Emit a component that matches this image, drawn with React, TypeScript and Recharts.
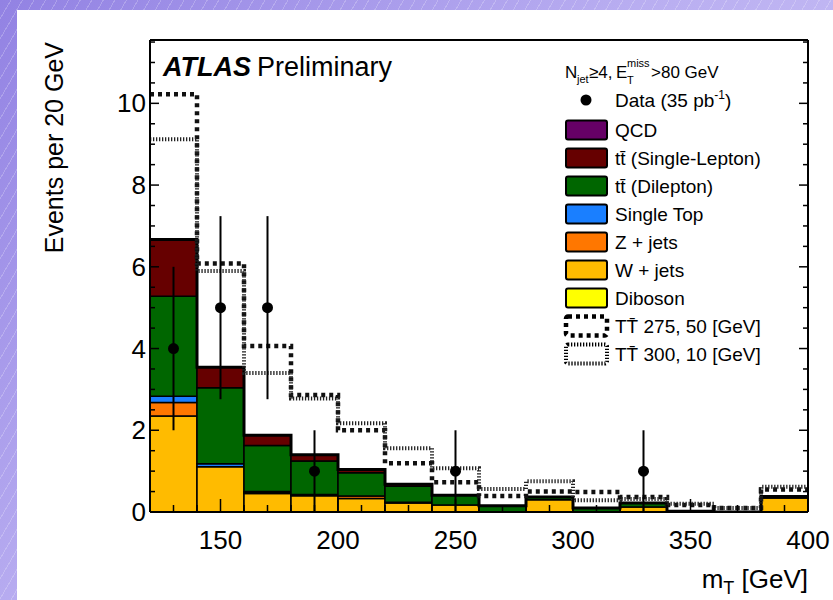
import { Bar, ComposedChart, ErrorBar, Label, Line, Scatter, XAxis, YAxis } from 'recharts';

const FONT = "'Liberation Sans', Arial, Helvetica, sans-serif";

// m_T bins, 20 GeV wide
const BIN_LOW_EDGES = [120, 140, 160, 180, 200, 220, 240, 260, 280, 300, 320, 340, 360, 380];
const LAST_EDGE = 400;

// expected background per bin, bottom of the stack first
const diboson = [0, 0, 0, 0, 0, 0, 0, 0, 0, 0, 0, 0, 0, 0];
const wJets = [2.35, 1.11, 0.45, 0.4, 0.33, 0.22, 0.17, 0, 0.3, 0, 0.12, 0, 0, 0.34];
const zJets = [0.33, 0, 0.03, 0.02, 0.06, 0.02, 0, 0, 0, 0, 0, 0, 0, 0];
const singleTop = [0.15, 0.07, 0.02, 0.01, 0, 0, 0, 0, 0, 0, 0, 0, 0, 0];
const ttDilepton = [2.45, 1.86, 1.13, 0.82, 0.57, 0.39, 0.24, 0.15, 0.07, 0.1, 0.1, 0.02, 0, 0.04];
const ttSingleLepton = [1.39, 0.5, 0.25, 0.15, 0.08, 0.05, 0, 0, 0, 0, 0, 0, 0, 0];
const qcd = [0, 0, 0, 0, 0, 0, 0, 0, 0, 0, 0, 0, 0, 0];

// signal hypotheses (not stacked)
const signal275 = [10.22, 6.08, 4.06, 2.86, 2.0, 1.19, 0.73, 0.39, 0.5, 0.49, 0.37, 0.17, 0.1, 0.55];
const signal300 = [9.12, 5.9, 3.4, 2.78, 2.17, 1.56, 1.07, 0.56, 0.75, 0.29, 0.32, 0.2, 0.1, 0.62];

// observed events (bins with zero entries are not drawn)
const dataMt = [130, 150, 170, 190, 250, 330];
const dataEvents = [4, 5, 5, 1, 1, 1];
const dataErrors = [2, 2.24, 2.24, 1, 1, 1];

const X_TICKS = Array.from({ length: 29 }, (_, i) => 120 + i * 10);
const Y_TICKS = Array.from({ length: 24 }, (_, i) => i * 0.5);

const STACK = [
  { key: 'diboson', name: 'Diboson', values: diboson, color: '#ffff00' },
  { key: 'wJets', name: 'W + jets', values: wJets, color: '#ffbb00' },
  { key: 'zJets', name: 'Z + jets', values: zJets, color: '#ff7700' },
  { key: 'singleTop', name: 'Single Top', values: singleTop, color: '#1a7fff' },
  { key: 'ttDilepton', name: 'tt\u0304 (Dilepton)', values: ttDilepton, color: '#006600' },
  { key: 'ttSingleLepton', name: 'tt\u0304 (Single-Lepton)', values: ttSingleLepton, color: '#660000' },
  { key: 'qcd', name: 'QCD', values: qcd, color: '#660066' },
];

const barRows = BIN_LOW_EDGES.map((lo, i) => {
  const row: Record<string, number | string> = { bin: String(lo) };
  STACK.forEach((s) => {
    row[s.key] = s.values[i];
  });
  return row;
});

const stepRows = [...BIN_LOW_EDGES, LAST_EDGE].map((x, i) => {
  const b = Math.min(i, BIN_LOW_EDGES.length - 1);
  return {
    x,
    total: STACK.reduce((sum, s) => sum + s.values[b], 0),
    tt275: signal275[b],
    tt300: signal300[b],
  };
});

const pointRows = dataMt.map((x, i) => ({ x, n: dataEvents[i], err: dataErrors[i] }));

const TICK_MARGIN = 4;

function LeftTick(props: any) {
  const { x, y, payload } = props;
  const axisX = x + TICK_MARGIN;
  const major = payload.value % 2 === 0;
  return (
    <g>
      <line x1={axisX} x2={axisX + (major ? 9 : 5)} y1={y} y2={y} stroke="#000" strokeWidth={1.5} />
      {major && (
        <text x={axisX - 4} y={y + 9} textAnchor="end" fontSize={26} fontFamily={FONT} fill="#000">
          {payload.value}
        </text>
      )}
    </g>
  );
}

function RightTick(props: any) {
  const { x, y, payload } = props;
  const axisX = x - TICK_MARGIN;
  const major = payload.value % 2 === 0;
  return <line x1={axisX} x2={axisX - (major ? 9 : 5)} y1={y} y2={y} stroke="#000" strokeWidth={1.5} />;
}

function BottomTick(props: any) {
  const { x, y, payload } = props;
  const axisY = y - TICK_MARGIN;
  const major = payload.value % 50 === 0;
  return (
    <g>
      <line x1={x} x2={x} y1={axisY} y2={axisY - (major ? 13 : 7)} stroke="#000" strokeWidth={1.5} />
      {major && (
        <text x={x} y={axisY + 37} textAnchor="middle" fontSize={26} fontFamily={FONT} fill="#000">
          {payload.value}
        </text>
      )}
    </g>
  );
}

function TopTick(props: any) {
  const { x, y, payload } = props;
  const axisY = y + TICK_MARGIN;
  const major = payload.value % 50 === 0;
  return <line x1={x} x2={x} y1={axisY} y2={axisY + (major ? 13 : 7)} stroke="#000" strokeWidth={1.5} />;
}

function DataDot(props: any) {
  return <circle cx={props.cx} cy={props.cy} r={5.5} fill="#000" />;
}

function Swatch({ y, fill, dash, width }: { y: number; fill?: string; dash?: string; width?: number }) {
  return (
    <rect
      x={566}
      y={y - 9.5}
      width={41}
      height={19}
      rx={2}
      fill={fill ?? '#fff'}
      stroke="#000"
      strokeWidth={width ?? 2}
      strokeDasharray={dash}
    />
  );
}

function LegendText({ y, children }: { y: number; children: any }) {
  return (
    <text x={615} y={y + 7} fontSize={19} fontFamily={FONT} fill="#000">
      {children}
    </text>
  );
}

function Overlay() {
  const legendStack = [...STACK].reverse();
  const rowY = (i: number) => 130 + i * 28;
  return (
    <svg width={833} height={600} style={{ position: 'absolute', left: 0, top: 0, pointerEvents: 'none' }}>
      <text x={163} y={76} fontSize={27} fontFamily={FONT} fontWeight="bold" fontStyle="italic" fill="#000">
        ATLAS
      </text>
      <text x={257} y={76} fontSize={27} fontFamily={FONT} fill="#000">
        Preliminary
      </text>

      {/* selection cuts */}
      <g fontFamily={FONT} fill="#000">
        <text x={565} y={78} fontSize={17}>N</text>
        <text x={577} y={83} fontSize={11}>jet</text>
        <text x={589} y={78} fontSize={17}>≥4,</text>
        <text x={616} y={78} fontSize={17}>E</text>
        <text x={627} y={67} fontSize={11}>miss</text>
        <text x={627} y={84} fontSize={11}>T</text>
        <text x={651} y={78} fontSize={17}>&gt;80 GeV</text>
      </g>

      <circle cx={586} cy={100} r={5.5} fill="#000" />
      <LegendText y={100}>
        Data (35 pb
        <tspan fontSize={12} dy={-8}>-1</tspan>
        <tspan dy={8}>)</tspan>
      </LegendText>

      {legendStack.map((s, i) => (
        <g key={s.key}>
          <Swatch y={rowY(i)} fill={s.color} />
          <LegendText y={rowY(i)}>{s.name}</LegendText>
        </g>
      ))}

      <Swatch y={rowY(7)} dash="4 4" width={4.5} />
      <LegendText y={rowY(7)}>TT{'\u0304'} 275, 50 [GeV]</LegendText>
      <Swatch y={rowY(8)} dash="1.3 1.7" width={4} />
      <LegendText y={rowY(8)}>TT{'\u0304'} 300, 10 [GeV]</LegendText>
    </svg>
  );
}

export default function App() {
  return (
    <div
      style={{
        position: 'absolute',
        left: 0,
        top: 0,
        width: 833,
        height: 600,
        overflow: 'hidden',
        background:
          'repeating-linear-gradient(120deg, rgba(255,255,255,0) 0px, rgba(255,255,255,0) 9px, rgba(255,255,255,0.22) 9px, rgba(255,255,255,0.22) 10px), linear-gradient(135deg, #9282e3 0%, #b9aef1 45%, #d3ccf7 100%)',
      }}
    >
      <div style={{ position: 'absolute', left: 17, top: 10, right: 0, bottom: 0, background: '#fff' }} />
      <div style={{ position: 'absolute', left: 0, top: 0 }}>
        <ComposedChart
          width={833}
          height={600}
          data={barRows}
          margin={{ top: 0, right: 0, bottom: 0, left: 0 }}
          barCategoryGap={0}
          barGap={0}
        >
          <XAxis xAxisId="bins" dataKey="bin" type="category" height={0} hide />
          <XAxis
            xAxisId="mt"
            dataKey="x"
            type="number"
            domain={[120, LAST_EDGE]}
            allowDataOverflow
            ticks={X_TICKS}
            interval={0}
            height={88}
            tickSize={0}
            tickMargin={TICK_MARGIN}
            tickLine={false}
            tick={BottomTick}
            axisLine={{ stroke: '#000', strokeWidth: 2 }}
          >
            <Label
              content={(p: any) => {
                const vb = p.viewBox;
                return (
                  <text x={vb.x + vb.width} y={vb.y + 76} textAnchor="end" fontSize={26} fontFamily={FONT} fill="#000">
                    m<tspan fontSize={18} dy={6}>T</tspan>
                    <tspan dy={-6}> [GeV]</tspan>
                  </text>
                );
              }}
            />
          </XAxis>
          <XAxis
            xAxisId="mtTop"
            orientation="top"
            type="number"
            domain={[120, LAST_EDGE]}
            allowDataOverflow
            ticks={X_TICKS}
            interval={0}
            height={40}
            tickSize={0}
            tickMargin={TICK_MARGIN}
            tickLine={false}
            tick={TopTick}
            axisLine={{ stroke: '#000', strokeWidth: 2 }}
          />
          <YAxis
            yAxisId="y"
            type="number"
            domain={[0, 11.55]}
            allowDataOverflow
            ticks={Y_TICKS}
            interval={0}
            width={150}
            tickSize={0}
            tickMargin={TICK_MARGIN}
            tickLine={false}
            tick={LeftTick}
            axisLine={{ stroke: '#000', strokeWidth: 2 }}
          >
            <Label
              content={(p: any) => {
                const vb = p.viewBox;
                const x = vb.x + 63;
                const y = vb.y + 2;
                return (
                  <text
                    x={x}
                    y={y}
                    transform={`rotate(-90 ${x} ${y})`}
                    textAnchor="end"
                    fontSize={25}
                    fontFamily={FONT}
                    fill="#000"
                  >
                    Events per 20 GeV
                  </text>
                );
              }}
            />
          </YAxis>
          <YAxis
            yAxisId="yr"
            orientation="right"
            type="number"
            domain={[0, 11.55]}
            allowDataOverflow
            ticks={Y_TICKS}
            interval={0}
            width={25}
            tickSize={0}
            tickMargin={TICK_MARGIN}
            tickLine={false}
            tick={RightTick}
            axisLine={{ stroke: '#000', strokeWidth: 2 }}
          />

          {STACK.map((s) => (
            <Bar
              key={s.key}
              xAxisId="bins"
              yAxisId="y"
              dataKey={s.key}
              stackId="bkg"
              fill={s.color}
              stroke="#000"
              strokeWidth={1.5}
              isAnimationActive={false}
            />
          ))}

          <Line
            xAxisId="mt"
            yAxisId="y"
            data={stepRows}
            dataKey="total"
            type="stepAfter"
            stroke="#000"
            strokeWidth={3}
            dot={false}
            activeDot={false}
            isAnimationActive={false}
          />
          <Line
            xAxisId="mt"
            yAxisId="y"
            data={stepRows}
            dataKey="tt275"
            type="stepAfter"
            stroke="#111"
            strokeWidth={4.5}
            strokeDasharray="4 4"
            dot={false}
            activeDot={false}
            isAnimationActive={false}
          />
          <Line
            xAxisId="mt"
            yAxisId="y"
            data={stepRows}
            dataKey="tt300"
            type="stepAfter"
            stroke="#222"
            strokeWidth={4}
            strokeDasharray="1.3 1.7"
            dot={false}
            activeDot={false}
            isAnimationActive={false}
          />
          <Scatter
            xAxisId="mt"
            yAxisId="y"
            data={pointRows}
            dataKey="n"
            shape={DataDot}
            isAnimationActive={false}
          >
            <ErrorBar dataKey="err" direction="y" width={0} stroke="#000" strokeWidth={2} isAnimationActive={false} />
          </Scatter>
        </ComposedChart>
      </div>
      <Overlay />
    </div>
  );
}
